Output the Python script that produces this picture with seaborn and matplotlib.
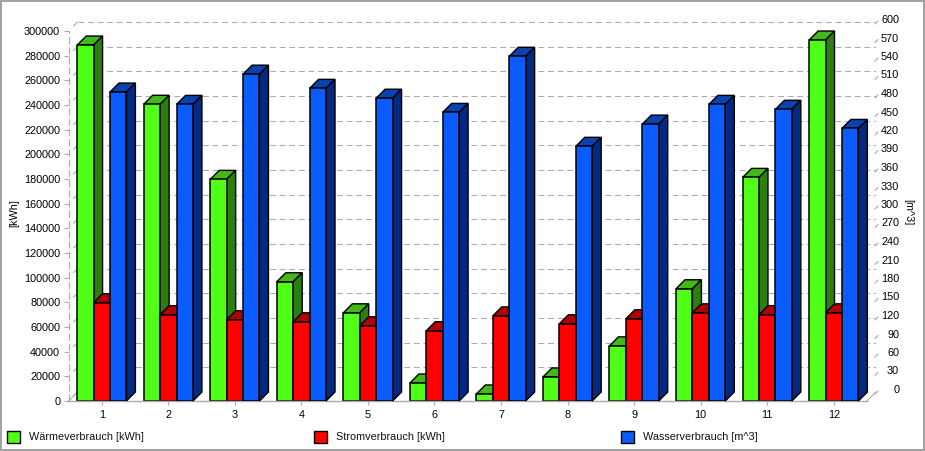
import matplotlib
matplotlib.use("Agg")
import matplotlib.pyplot as plt
import seaborn as sns
import pandas as pd
from matplotlib.patches import Polygon, Rectangle
from matplotlib.transforms import Affine2D
from matplotlib.lines import Line2D

months = [str(i) for i in range(1, 13)]
waerme = [288600, 240600, 179700, 96700, 71500, 14600, 5700, 19500, 44700, 91000, 181300, 292700]
strom = [79700, 70000, 65900, 64200, 61000, 57000, 69000, 62600, 66700, 71500, 70000, 71500]
wasser = [501, 481, 530, 507, 491, 468, 559, 413, 449, 481, 473, 442]
names = ["Wärmeverbrauch [kWh]", "Stromverbrauch [kWh]", "Wasserverbrauch [m^3]"]
front = ["#50FF17", "#FF0000", "#0A5CFF"]
side = ["#2A7F0D", "#800000", "#032A80"]
top = ["#42B81A", "#B00000", "#0A42B0"]
left_ticks = list(range(0, 300001, 20000))
right_ticks = list(range(0, 601, 30))

sns.set_theme(style="white")
plt.rcParams["font.family"] = ["Liberation Sans", "DejaVu Sans"]
FS = 7.8
W, H = 925, 451
DEPTH = 9
GREY = "#ababab"
DASH = (0, (5.6, 3.6))

fig = plt.figure(figsize=(W / 100, H / 100), dpi=100, facecolor="white")
px = Affine2D().scale(1 / W, -1 / H).translate(0, 1) + fig.transFigure


def add_axes(l, t, r, b):
    return fig.add_axes([l / W, 1 - b / H, (r - l) / W, (b - t) / H])


L, T, R, B = 68.5, 31, 867, 401

# back wall: grid
back = add_axes(L + DEPTH, T - DEPTH, R + DEPTH, B - DEPTH)
back.patch.set_visible(False)
back.set_xlim(0, 1)
back.set_ylim(0, 300000)
back.set_yticks(left_ticks)
back.set_xticks([])
back.tick_params(left=False, labelleft=False)
back.grid(axis="y", color=GREY, lw=0.75, linestyle=DASH)
back.set_axisbelow(True)
for s in back.spines.values():
    s.set_visible(False)

# right-hand scale (its labels sit 3 px above the back wall ticks)
scale = add_axes(L + DEPTH, T - DEPTH - 3, R + DEPTH, B - DEPTH - 3)
scale.patch.set_visible(False)
scale.set_xticks([])
scale.yaxis.tick_right()
scale.set_ylim(0, 600)
scale.set_yticks(right_ticks)
scale.set_yticklabels([str(v) for v in right_ticks], fontsize=FS, color="black", ha="right")
scale.tick_params(axis="y", right=False, left=False, pad=10.7)
for s in scale.spines.values():
    s.set_visible(False)

for v in right_ticks:
    y = B - DEPTH - (B - T) * v / 600
    fig.add_artist(Line2D([R + 8, R + 11], [y + 2, y - 1], transform=px, color=GREY, lw=0.8))

# diagonal stubs on the left wall, floor edges (behind all axes)
for v in left_ticks:
    y = B - (B - T) * v / 300000
    fig.add_artist(Line2D([L + 5, L + DEPTH], [y - 5, y - DEPTH], transform=px, color=GREY, lw=0.8, zorder=-1))
for x in (L, R):
    fig.add_artist(Line2D([x, x + DEPTH], [B, B - DEPTH], transform=px, color=GREY, lw=0.8, zorder=-1))

# front plane, kWh bars
df_kwh = pd.DataFrame({
    "Monat": months * 2,
    "Wert": waerme + strom,
    "Reihe": [names[0]] * 12 + [names[1]] * 12,
})
df_w = pd.DataFrame({"Monat": months, "Wert": wasser, "Reihe": [names[2]] * 12})
palette = dict(zip(names, front))

ax = add_axes(L, T, R, B)
ax.patch.set_visible(False)
sns.barplot(data=df_kwh, x="Monat", y="Wert", hue="Reihe", hue_order=names, order=months,
            palette=palette, width=0.74, gap=0, saturation=1, legend=False, errorbar=None,
            edgecolor="black", linewidth=1.1, ax=ax)
ax.set_xlim(-0.5, 11.5)
ax.set_ylim(0, 300000)
ax.set_xlabel("")
ax.set_ylabel("")
ax.set_yticks(left_ticks)
ax.set_yticklabels([str(v) for v in left_ticks], fontsize=FS, color="black")
ax.tick_params(axis="y", left=True, length=3.5, width=0.8, color=GREY, pad=2.5)
ax.tick_params(axis="x", bottom=True, length=3, width=0.8, color=GREY, labelsize=FS, labelcolor="black", pad=3.5)
ax.spines["top"].set_visible(False)
ax.spines["right"].set_visible(False)
ax.spines["left"].set_color(GREY)
ax.spines["left"].set_linewidth(0.8)
ax.spines["left"].set_linestyle(DASH)
ax.spines["bottom"].set_color(GREY)
ax.spines["bottom"].set_linewidth(1.0)

ax2 = ax.twinx()
ax2.patch.set_visible(False)
sns.barplot(data=df_w, x="Monat", y="Wert", hue="Reihe", hue_order=names, order=months,
            palette=palette, width=0.74, gap=0, dodge=True, saturation=1, legend=False, errorbar=None,
            edgecolor="black", linewidth=1.1, ax=ax2)
ax2.set_xlim(-0.5, 11.5)
ax2.set_ylim(0, 600)
ax2.set_ylabel("")
ax2.set_xlabel("")
ax2.set_yticks([])
for s in ax2.spines.values():
    s.set_visible(False)
ax2.tick_params(axis="x", bottom=False, labelbottom=False)


def extrude(axis, bars, idx, ymax):
    dx = DEPTH * 12 / (R - L)
    dy = DEPTH * ymax / (B - T)
    z = 2 + idx * 0.2
    for bar in bars:
        h = bar.get_height()
        x0, x1 = bar.get_x(), bar.get_x() + bar.get_width()
        bar.set_zorder(z + 0.1)
        axis.add_patch(Polygon([(x0, h), (x1, h), (x1 + dx, h + dy), (x0 + dx, h + dy)], closed=True,
                               facecolor=top[idx], edgecolor="black", lw=1.0, zorder=z, clip_on=False))
        axis.add_patch(Polygon([(x1, 0), (x1, h), (x1 + dx, h + dy), (x1 + dx, dy)], closed=True,
                               facecolor=side[idx], edgecolor="black", lw=1.0, zorder=z, clip_on=False))


kwh_bars = [b for b in ax.patches if b.get_height() > 0]
water_bars = [b for b in ax2.patches if b.get_height() > 0]
extrude(ax, kwh_bars[:12], 0, 300000)
extrude(ax, kwh_bars[12:24], 1, 300000)
extrude(ax2, water_bars, 2, 600)

# axis titles
fig.text(14.5 / W, 1 - 213 / H, "[kWh]", rotation=90, ha="center", va="center", fontsize=FS, color="black")
fig.text(908 / W, 1 - 212 / H, "[m^3]", rotation=270, ha="center", va="center", fontsize=FS, color="black")

# legend row
for x0, name, color in zip([6.5, 313.5, 620.5], names, front):
    fig.add_artist(Rectangle((x0, 431), 13, 12, transform=px, facecolor=color, edgecolor="black", lw=1.0))
    fig.text((x0 + 22.5) / W, 1 - 437 / H, name, ha="left", va="center", fontsize=FS, color="#111111")

# outer frame
fig.add_artist(Rectangle((0.5, 0.5), 923, 449, transform=px, fill=False, edgecolor="#a0a0a0", lw=1.4))

fig.savefig("out.png", dpi=100, facecolor="white")
